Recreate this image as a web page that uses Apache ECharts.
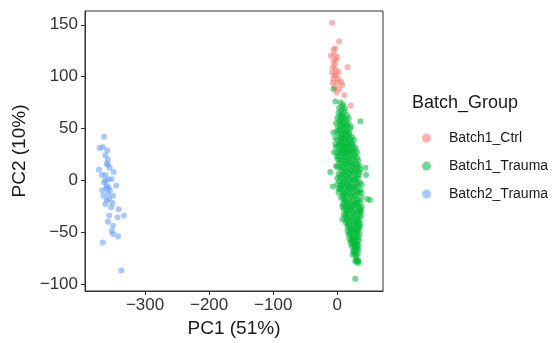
<!DOCTYPE html>
<html>
<head>
<meta charset="utf-8">
<script src="https://cdn.jsdelivr.net/npm/echarts@6/dist/echarts.min.js"></script>
<style>html,body{margin:0;padding:0;background:#fff}#c{width:553px;height:343px}</style>
</head>
<body>
<div id="c"></div>
<script>
const seriesNames = ["Batch1_Ctrl", "Batch1_Trauma", "Batch2_Trauma"];
const xTicks = [-300, -200, -100, 0];
const yTicks = [-100, -50, 0, 50, 100, 150];

const batch1Ctrl = [
  [-8,152],[3,134],[-6,126],[-3,127],[-10,120],[-5,121],[0,119],[-6,115],[-2,116],
  [16,109],[-7,109],[-3,107],[-5,101],[-2,102],[-7,94],[0,94],[6,95],[8,92],[11,82],
  [21,72],[-4,112],[-8,104],[1,98],[-4,90],[3,88],[-1,85],[-6,98],[2,105]
];

const batch2Trauma = [
  [-364,42],[-371,31],[-366,32],[-359,29],[-362,24],[-360,16],[-358,15],[-355,12],
  [-372,10],[-349,8],[-367,5],[-362,0],[-357,1],[-352,1],[-364,-2],[-345,-5],
  [-367,-10],[-361,-8],[-357,-7],[-358,-13],[-356,-18],[-360,-19],[-362,-23],
  [-353,-26],[-351,-22],[-341,-28],[-333,-34],[-356,-34],[-343,-36],[-358,-40],
  [-350,-44],[-352,-49],[-350,-52],[-342,-54],[-366,-60],[-337,-87],
  [-360,-5],[-355,-10],[-362,5],[-350,-15],[-365,-15],[-358,20]
];

const batch1Trauma = [
  [5,75],[9,73],[3,70],[8,71],[12,69],[6,67],
  [2,65],[7,64],[11,66],[15,63],[4,62],
  [0,60],[6,59],[10,61],[14,58],[18,60],[3,57],
  [-2,55],[5,54],[9,56],[13,53],[17,55],[21,52],[1,51],
  [4,50],[8,49],[12,51],[16,48],[20,50],[-1,47],[10,46],
  [2,45],[7,44],[11,45],[15,43],[19,44],[23,42],[5,41],[13,40],
  [0,39],[6,38],[10,39],[14,37],[18,38],[22,36],[26,39],[3,35],[12,34],
  [1,33],[5,32],[9,33],[13,31],[17,32],[21,30],[25,33],[29,31],[7,29],[15,28],
  [-1,27],[4,26],[8,27],[12,25],[16,26],[20,24],[24,27],[28,25],[10,22],[18,21],[2,23],
  [1,20],[5,19],[9,20],[13,18],[17,19],[21,17],[25,20],[29,18],[33,19],[7,16],[15,15],[23,14],
  [0,13],[4,12],[8,13],[12,11],[16,12],[20,10],[24,13],[28,11],[32,12],[36,10],[10,8],[18,7],[26,8],
  [2,6],[6,5],[10,6],[14,4],[18,5],[22,3],[26,6],[30,4],[34,5],[12,1],[20,0],[28,1],[8,2],
  [3,-1],[7,-2],[11,-1],[15,-3],[19,-2],[23,-4],[27,-1],[31,-3],[35,-2],[13,-6],[21,-7],[29,-6],[5,-5],
  [4,-9],[8,-10],[12,-8],[16,-11],[20,-9],[24,-12],[28,-10],[32,-11],[36,-9],[14,-14],[22,-15],[30,-14],[10,-13],
  [6,-17],[10,-18],[14,-16],[18,-19],[22,-17],[26,-20],[30,-18],[34,-19],[38,-17],[16,-22],[24,-23],[32,-22],[12,-21],
  [8,-25],[12,-26],[16,-24],[20,-27],[24,-25],[28,-28],[32,-26],[36,-27],[18,-30],[26,-31],[34,-30],[14,-29],
  [10,-33],[14,-34],[18,-32],[22,-35],[26,-33],[30,-36],[34,-34],[37,-35],[20,-38],[28,-39],[16,-37],[32,-40],
  [13,-41],[17,-42],[21,-40],[25,-43],[29,-41],[33,-44],[36,-42],[23,-46],[31,-47],[19,-45],[27,-48],
  [16,-49],[20,-50],[24,-48],[28,-51],[32,-49],[35,-52],[22,-54],[30,-55],[26,-56],[18,-53],
  [19,-57],[23,-58],[27,-57],[31,-59],[34,-58],[25,-61],[29,-62],[21,-61],[33,-63],
  [23,-64],[27,-65],[31,-66],[25,-68],[29,-69],[33,-67],[27,-71],[24,-72],
  [29,-75],[32,-77],[30,-79],[33,-80],[28,-78],
  [36,57],[-6,46],[-11,8],[-7,-6],[2,-8],[44,12],[45,5],[47,-18],[51,-19],[8,-38],
  [28,-95],[-3,76],[-6,88],[-5,27],[-3,35],[33,-78],
  [7,62],[11,58],[5,56],[15,53],[8,52],[3,48],[13,47],[18,46],[6,43],[9,41],[17,41],
  [21,39],[4,37],[8,36],[16,35],[24,35],[11,32],[19,33],[27,29],[3,29],[10,29],[14,27],
  [19,27],[23,29],[6,24],[14,22],[22,22],[26,23],[31,22],[3,17],[11,16],[19,16],[27,16],
  [31,15],[6,10],[14,9],[22,9],[30,9],[34,8],[4,3],[16,2],[24,1],[32,2],[9,-4],[17,-5],
  [25,-6],[33,-5],[6,-7],[18,-8],[26,-8],[34,-12],[12,-12],[20,-13],[27,-15],[8,-15],
  [12,-19],[20,-21],[28,-22],[36,-22],[16,-26],[22,-25],[30,-24],[10,-28],[22,-29],[30,-31],
  [36,-31],[12,-36],[24,-36],[32,-37],[15,-39],[26,-41],[34,-39],[18,-43],[29,-45],[34,-47],
  [21,-47],[25,-51],[31,-52],[19,-51],[24,-55],[33,-55],[27,-60],[22,-59],[31,-62],[26,-63],
  [29,-65],[32,-71],[30,-73],[26,-69],[16,-45],[35,-45],[14,-32],[37,-30],[9,-23],[2,-12],
  [0,2],[0,-4],[-2,14],[-1,23],[-3,41],[-2,32],[31,27],[35,14],[38,-4],[38,-12],[38,-26]
];

const colors = ["#F8766D", "#00BA38", "#619CFF"];
const font = "Liberation Sans, Arial, sans-serif";

const chart = echarts.init(document.getElementById('c'));
chart.setOption({
  animation: false,
  textStyle: { fontFamily: font },
  title: {
    text: "Batch_Group", left: 412, top: 94, padding: 0,
    textStyle: { fontSize: 18, fontWeight: 'normal', color: '#1a1a1a', fontFamily: font }
  },
  legend: {
    orient: 'vertical', left: 422, top: 131, itemGap: 14, padding: 0,
    icon: 'circle', itemWidth: 9, itemHeight: 15,
    data: seriesNames,
    textStyle: { fontSize: 14, color: '#1a1a1a', padding: [0, 0, 0, 13], fontFamily: font }
  },
  grid: { left: 85, right: 170, top: 11, bottom: 47, show: true, borderColor: '#333', borderWidth: 1, backgroundColor: '#fff' },
  xAxis: {
    type: 'value', min: -393.75, max: 71.4,
    name: 'PC1 (51%)', nameLocation: 'middle', nameGap: 28,
    nameTextStyle: { fontSize: 19, color: '#1a1a1a', fontFamily: font },
    axisLine: { show: true, onZero: false, lineStyle: { color: '#333' } },
    axisTick: { show: true, length: 4, customValues: xTicks, lineStyle: { color: '#333' } },
    axisLabel: { customValues: xTicks, fontSize: 17, color: '#333', margin: 6,
      formatter: v => (v < 0 ? '\u2212' + Math.abs(v) : '' + v) },
    splitLine: { show: false }
  },
  yAxis: {
    type: 'value', min: -106.9, max: 163.3,
    name: 'PC2 (10%)', nameLocation: 'middle', nameGap: 55, nameRotate: 90,
    nameTextStyle: { fontSize: 19, color: '#1a1a1a', fontFamily: font },
    axisLine: { show: true, onZero: false, lineStyle: { color: '#333' } },
    axisTick: { show: true, length: 4, customValues: yTicks, lineStyle: { color: '#333' } },
    axisLabel: { customValues: yTicks, fontSize: 17, color: '#333', margin: 7,
      formatter: v => (v < 0 ? '\u2212' + Math.abs(v) : '' + v) },
    splitLine: { show: false }
  },
  series: [
    { name: seriesNames[0], type: 'scatter', data: batch1Ctrl, symbolSize: 6,
      itemStyle: { color: colors[0], opacity: 0.55 } },
    { name: seriesNames[1], type: 'scatter', data: batch1Trauma, symbolSize: 6,
      itemStyle: { color: colors[1], opacity: 0.55 } },
    { name: seriesNames[2], type: 'scatter', data: batch2Trauma, symbolSize: 6,
      itemStyle: { color: colors[2], opacity: 0.55 } }
  ]
});
</script>
</body>
</html>
